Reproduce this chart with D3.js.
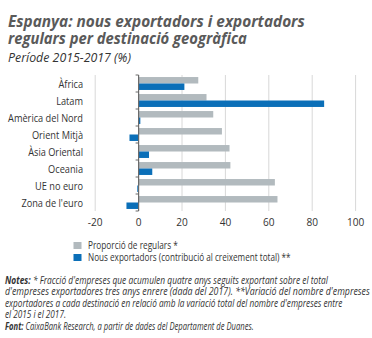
<!DOCTYPE html>
<html>
<head>
<meta charset="utf-8">
<script src="https://cdn.jsdelivr.net/npm/d3@7"></script>
<style>
  body { margin: 0; background: #fff; }
  svg text { font-family: "Open Sans", "Noto Sans", sans-serif; }
</style>
</head>
<body>
<div id="graf"></div>
<script>
// dades
const categories = ["Àfrica", "Latam", "Amèrica del Nord", "Orient Mitjà", "Àsia Oriental", "Oceania", "UE no euro", "Zona de l'euro"]
const regulars = [27.5, 31.3, 34.4, 38.4, 41.9, 42.3, 62.8, 64]
const nous = [21.1, 85.5, 0.8, -4.2, 4.8, 6.3, -0.6, -5.6]
const ticks = [-20, 0, 20, 40, 60, 80, 100]

const colGris = "#b2babe"
const colBlau = "#0b6fb8"

const svg = d3.select("#graf").append("svg")
  .attr("width", 372).attr("height", 338)

// escriu un text i l'estreny en horitzontal fins a l'amplada volguda
const escriu = (pare, x, y, ample, partides, opts = {}) => {
  const t = pare.append("text")
    .attr("font-size", opts.mida || 10)
    .attr("font-style", opts.cursiva ? "italic" : "normal")
    .attr("font-weight", opts.negreta ? "bold" : "normal")
    .attr("fill", opts.color || "#333")
    .attr("text-anchor", opts.ancora || "start")
  partides.forEach(([s, b]) => {
    t.append("tspan").attr("font-weight", b ? "bold" : null).text(s)
  })
  const w = t.node().getComputedTextLength()
  const k = ample ? ample / w : (opts.k || 1)
  t.attr("transform", `translate(${x},${y}) scale(${k},1)`)
  return t
}

// titols
escriu(svg, 8, 27, 297, [["Espanya: nous exportadors i exportadors"]],
  { mida: 16, negreta: true, cursiva: true, color: "#5a5a5a" })
escriu(svg, 8, 43.5, 239, [["regulars per destinació geogràfica"]],
  { mida: 16, negreta: true, cursiva: true, color: "#5a5a5a" })
escriu(svg, 8, 62, 123, [["Període 2015-2017 (%)"]],
  { mida: 12, cursiva: true, color: "#333" })

// escales
const x = d3.scaleLinear().domain([-20, 100]).range([95.2, 355.6])
const y = d3.scaleBand().domain(categories).range([75, 211])
  .paddingInner(0.24).paddingOuter(0.12)

const g = svg.append("g")

// graella
g.selectAll(".grid").data(ticks.filter(d => d !== 0)).enter()
  .append("line")
  .attr("x1", d => x(d)).attr("x2", d => x(d))
  .attr("y1", 75).attr("y2", 211)
  .attr("stroke", "#d8d8d8").attr("stroke-width", 1)

// barres
const bh = y.bandwidth() / 2
g.selectAll(".reg").data(categories).enter()
  .append("rect")
  .attr("x", x(0))
  .attr("y", d => y(d))
  .attr("width", (d, i) => x(regulars[i]) - x(0))
  .attr("height", bh)
  .attr("fill", colGris)

g.selectAll(".nou").data(categories).enter()
  .append("rect")
  .attr("x", (d, i) => x(Math.min(0, nous[i])))
  .attr("y", d => y(d) + bh)
  .attr("width", (d, i) => Math.abs(x(nous[i]) - x(0)))
  .attr("height", bh)
  .attr("fill", colBlau)

// eix zero
g.append("line")
  .attr("x1", x(0)).attr("x2", x(0))
  .attr("y1", 75).attr("y2", 211)
  .attr("stroke", "#6a6a6a").attr("stroke-width", 1.2)
const limits = d3.range(categories.length + 1).map(i => 75 + i * y.step())
g.selectAll(".tk").data(limits).enter()
  .append("line")
  .attr("x1", x(0) - 3).attr("x2", x(0))
  .attr("y1", d => d).attr("y2", d => d)
  .attr("stroke", "#6a6a6a").attr("stroke-width", 1)

// etiquetes categories (mateix estrenyiment per a totes)
const prova = escriu(g, 0, 0, null, [["Amèrica del Nord"]], { mida: 11.5 })
const kCat = 75 / prova.node().getComputedTextLength()
prova.remove()
categories.forEach(c => {
  escriu(g, 83, y(c) + y.bandwidth() / 2 + 4, null, [[c]],
    { mida: 11.5, ancora: "end", k: kCat })
})

// etiquetes eix x
ticks.forEach(t => {
  escriu(g, x(t), 226, null, [[String(t)]], { mida: 11, ancora: "middle", k: 0.92 })
})

// llegenda
const llegenda = [
  { t: "Proporció de regulars *", c: colGris, w: 90 },
  { t: "Nous exportadors (contribució al creixement total) **", c: colBlau, w: 203 }
]
llegenda.forEach((d, i) => {
  svg.append("rect").attr("x", 73.5).attr("y", 242 + i * 12)
    .attr("width", 8).attr("height", 7).attr("fill", d.c)
  escriu(svg, 88, 249 + i * 12, d.w, [[d.t]], { mida: 10 })
})

// notes
const notes = [
  [["Notes: ", true], ["* Fracció d'empreses que acumulen quatre anys seguits exportant sobre el total", false]],
  [["d'empreses exportadores tres anys enrere (dada del 2017). **Variació del nombre d'empreses", false]],
  [["exportadores a cada destinació en relació amb la variació total del nombre d'empreses entre", false]],
  [["el 2015 i el 2017.", false]],
  [["Font: ", true], ["CaixaBank Research, a partir de dades del Departament de Duanes.", false]]
]
const notesAmple = [323, 365, 338, 61, 249]
notes.forEach((linia, i) => {
  escriu(svg, 5, 283.5 + i * 11.6, notesAmple[i], linia, { mida: 10.5, cursiva: true })
})
</script>
</body>
</html>
